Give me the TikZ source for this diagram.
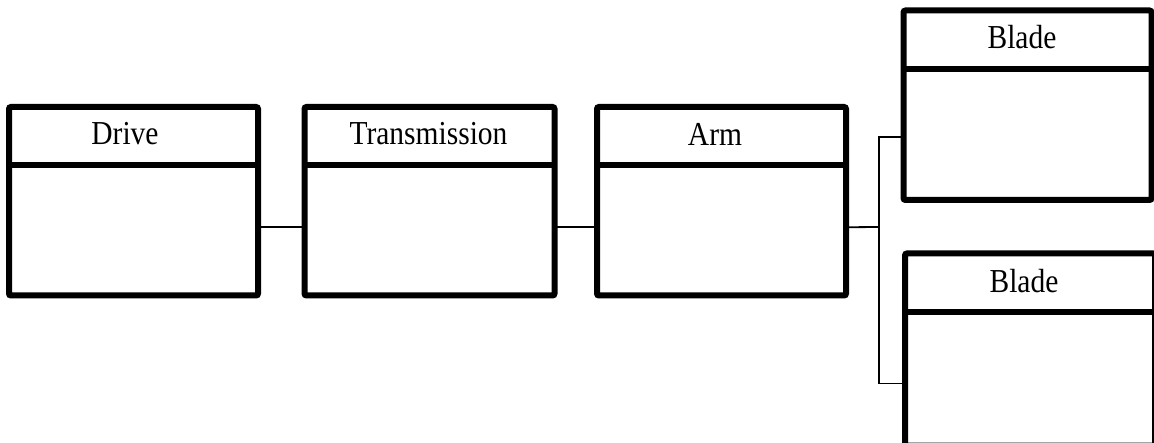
\documentclass[tikz,border=0pt]{standalone}
\usepackage{fontspec}
\setmainfont{Liberation Serif}
\usetikzlibrary{calc}
\newcommand{\boxtitle}[1]{\scalebox{0.88}[1]{\fontsize{33.5}{40}\selectfont #1}}
\begin{document}
\begin{tikzpicture}[x=1pt,y=-1pt,
  box/.style={draw=black, line width=6pt, rounded corners=2pt, fill=white, inner sep=0pt, outer sep=0pt, anchor=north west},
  divider/.style={draw=black, line width=6pt},
  conn/.style={draw=black, line width=1.8pt},
  title/.style={inner sep=0pt}]
\useasboundingbox (0,0) rectangle (1154,443);
\clip (0,0) rectangle (1154,443);
% boxes
\node[box, minimum width=249pt, minimum height=188.5pt] (drive) at (9,107) {};
\node[box, minimum width=250pt, minimum height=188.5pt] (trans) at (304.5,107) {};
\node[box, minimum width=249pt, minimum height=188.5pt] (arm) at (597,107) {};
\node[box, minimum width=248pt, minimum height=189.5pt] (blade1) at (903.5,10.5) {};
\node[box, minimum width=250pt, minimum height=192pt] (blade2) at (905,253.5) {};
% dividers
\foreach \b/\d in {drive/58, trans/58, arm/58, blade1/58.5, blade2/59}{
  \draw[divider] ([yshift=-\d pt]\b.north west) -- ([yshift=-\d pt]\b.north east);
}
% titles
\node[title] (tdrive) at (125,134) {\boxtitle{Drive}};
\node[title] (ttrans) at (428.5,134) {\boxtitle{Transmission}};
\node[title] (tarm) at (715,134) {\boxtitle{Arm}};
\node[title] (tblade1) at (1022,37.5) {\boxtitle{Blade}};
\node[title] (tblade2) at (1024,281) {\boxtitle{Blade}};
% connectors
\coordinate (junc) at (879,227);
\draw[conn] ([yshift=-26pt]drive.east) -- ([yshift=-26pt]trans.west);
\draw[conn] ([yshift=-26pt]trans.east) -- ([yshift=-26pt]arm.west);
\draw[conn] ([yshift=-26pt]arm.east) -- (junc);
\draw[conn] ([yshift=-32pt]blade1.west) -| (junc) |- ([yshift=-34pt]blade2.west);
\end{tikzpicture}
\end{document}
